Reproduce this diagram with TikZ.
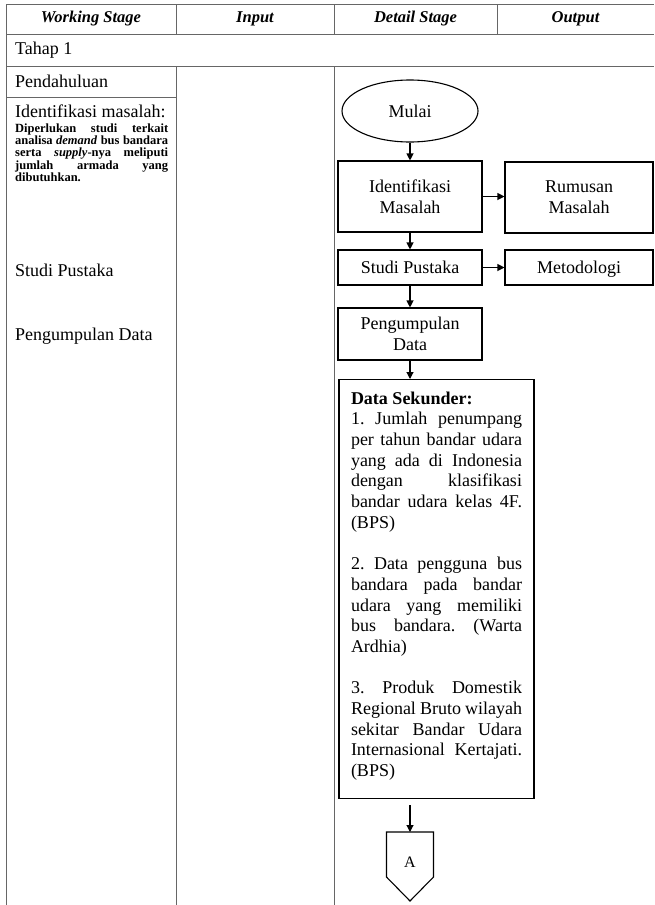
\documentclass[tikz,border=0pt]{standalone}
\usepackage{fontspec}
\setmainfont{Liberation Serif}
\usetikzlibrary{shapes.geometric,arrows.meta}
\setlength{\parindent}{0pt}
\frenchspacing

\begin{document}
\begin{tikzpicture}[x=1pt,y=-1pt,
  grid/.style={draw=black!60, line width=0.9pt},
  headtext/.style={font=\fontsize{16.5}{19}\selectfont\bfseries\itshape},
  celltext/.style={anchor=west, inner sep=0pt, font=\fontsize{18}{20.7}\selectfont},
  flowbox/.style={draw, line width=1.1pt, align=center, inner sep=0pt, font=\fontsize{18}{20.7}\selectfont},
  oneline/.style={text height=12.5pt, text depth=0pt},
  flowline/.style={line width=1.1pt, -{Triangle[length=7pt,width=7pt]}}]
\useasboundingbox (0,0) rectangle (654,905);

% table grid
\draw[grid] (6.5,905) -- (6.5,4.5) -- (654,4.5);
\draw[grid] (6.5,34) -- (654,34);
\draw[grid] (6.5,66) -- (654,66);
\draw[grid] (6.5,97) -- (176,97);
\draw[grid] (176,4.5) -- (176,34);
\draw[grid] (334,4.5) -- (334,34);
\draw[grid] (497,4.5) -- (497,34);
\draw[grid] (176,66) -- (176,905);
\draw[grid] (334,66) -- (334,905);

% header
\node[headtext] (hWorking) at (91,19) {Working Stage};
\node[headtext] (hInput) at (255,19) {Input};
\node[headtext] (hDetail) at (415.5,19) {Detail Stage};
\node[headtext] (hOutput) at (575.5,19) {Output};

% working stage column
\node[celltext] (tahap) at (15,50) {Tahap 1};
\node[celltext] (pendahuluan) at (15,81) {Pendahuluan};
\node[celltext] (idMasalah) at (15,111) {Identifikasi masalah:};
\node[anchor=north west, inner sep=0pt, text width=153pt, align=justify,
  font=\fontsize{12.5}{12.25}\selectfont\bfseries] (idDesc) at (15,123.5)
  {Diperlukan studi terkait\linebreak analisa \textit{demand} bus bandara\linebreak serta \textit{supply}-nya meliputi\linebreak jumlah armada yang\linebreak dibutuhkan.};
\node[celltext] (wsStudi) at (15,270) {Studi Pustaka};
\node[celltext] (wsPengumpulan) at (15,336) {Pengumpulan Data};

% detail stage flow
\node[flowbox, oneline, ellipse, minimum width=136pt, minimum height=62pt] (mulai) at (410,111) {Mulai};
\node[flowbox, minimum width=144pt, minimum height=71pt] (idBox) at (410,196.5) {Identifikasi\\Masalah};
\node[flowbox, minimum width=148pt, minimum height=71pt] (rumusan) at (579,197.5) {Rumusan\\Masalah};
\node[flowbox, oneline, minimum width=144pt, minimum height=35pt] (studi) at (410,267.5) {Studi Pustaka};
\node[flowbox, oneline, minimum width=148pt, minimum height=35pt] (metodologi) at (579,267.5) {Metodologi};
\node[flowbox, minimum width=144pt, minimum height=52pt] (pengumpulan) at (410,334) {Pengumpulan\\Data};
\node[flowbox, anchor=north, text width=171pt, inner xsep=12pt, inner ysep=12pt, align=justify] (sekunder) at (436.5,379)
  {\textbf{Data Sekunder:}\par
  1. Jumlah penumpang\linebreak per tahun bandar udara\linebreak yang ada di Indonesia\linebreak dengan klasifikasi\linebreak bandar udara kelas 4F.\linebreak (BPS)\par
  \vspace{20.7pt}
  2. Data pengguna bus\linebreak bandara pada bandar\linebreak udara yang memiliki\linebreak bus bandara. (Warta\linebreak Ardhia)\par
  \vspace{20.7pt}
  3. Produk Domestik\linebreak Regional Bruto wilayah\linebreak sekitar Bandar Udara\linebreak Internasional Kertajati.\linebreak (BPS)\rule[-10pt]{0pt}{10pt}};

\coordinate (sekunderOut) at (410,805);
\coordinate (connA) at (410,832);
\draw[line width=1.1pt] (connA) -- ++(23.5,0) -- ++(0,45) -- ++(-23.5,24) -- ++(-23.5,-24) -- ++(0,-45) -- cycle;
\node[font=\fontsize{16}{18}\selectfont] (labelA) at (410,862) {A};

\draw[flowline] (mulai.south) -- (idBox.north);
\draw[flowline] (idBox.east) -- (rumusan.west |- idBox.east);
\draw[flowline] (idBox.south) -- (studi.north);
\draw[flowline] (studi.east) -- (metodologi.west);
\draw[flowline] (studi.south) -- (pengumpulan.north);
\draw[flowline] (pengumpulan.south) -- (pengumpulan.south |- sekunder.north);
\draw[flowline] (sekunderOut) -- (connA);
\end{tikzpicture}
\end{document}
